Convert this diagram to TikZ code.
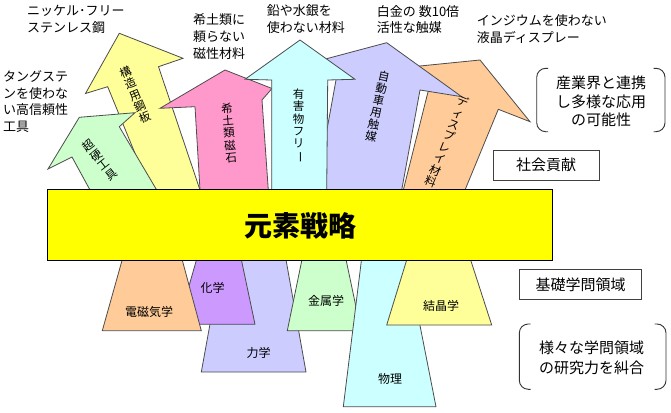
\documentclass[tikz,border=0pt]{standalone}
\usepackage{fontspec}
\setmainfont{Noto Sans CJK JP}
\definecolor{cgreen}{HTML}{CCFFCC}
\definecolor{cyellow}{HTML}{FFFF99}
\definecolor{cpink}{HTML}{FF99CC}
\definecolor{ccyan}{HTML}{CCFFFF}
\definecolor{clav}{HTML}{CCCCFF}
\definecolor{corange}{HTML}{FFCC99}
\definecolor{cpurple}{HTML}{CC99FF}
\definecolor{cmain}{HTML}{FFFF00}
\begin{document}
\begin{tikzpicture}[x=1pt,y=-1pt,
  shp/.style={draw=black!70, line width=0.8pt, line join=miter},
  toplbl/.style={font=\fontsize{13}{16.8}\selectfont, align=left, anchor=north west, inner sep=0pt},
  sidelbl/.style={font=\fontsize{15}{19}\selectfont, align=center, inner sep=0pt},
  boxlbl/.style={font=\fontsize{15}{19}\selectfont, draw=black!75, line width=0.9pt, inner sep=0pt},
  vlbl/.style={font=\fontsize{11.5}{12.3}\selectfont, align=center, inner sep=0pt},
  blbl/.style={font=\fontsize{12}{14}\selectfont, inner sep=0pt},
  brk/.style={draw=black!80, line width=0.9pt, rounded corners=9pt}]
\useasboundingbox (0,0) rectangle (671,412);

% bottom trapezoids
\filldraw[shp, fill=clav] (222,258) -- (285.7,258) -- (306,372) -- (201.3,372) -- cycle;
\filldraw[shp, fill=cpurple] (197,258) -- (241,258) -- (255,324.3) -- (178,324.3) -- cycle;
\filldraw[shp, fill=corange] (122.7,258) -- (181.7,258) -- (201.3,330.7) -- (102.3,330.7) -- cycle;
\filldraw[shp, fill=cgreen] (302.3,258) -- (345.7,258) -- (361,330.7) -- (287.3,330.7) -- cycle;
\filldraw[shp, fill=ccyan] (361.7,258) -- (406.7,258) -- (436,406.7) -- (343.3,406.7) -- cycle;
\filldraw[shp, fill=cyellow] (407.3,258) -- (470,258) -- (491.7,325) -- (386.7,325) -- cycle;

\node[blbl] (denji) at (149,311.7) {電磁気学};
\node[blbl] (kagaku) at (212.7,288.3) {化学};
\node[blbl] (rikigaku) at (258.7,353.3) {力学};
\node[blbl] (kinzoku) at (326,300.7) {金属学};
\node[blbl] (butsuri) at (390,379) {物理};
\node[blbl] (kessho) at (441.2,305.7) {結晶学};

% top arrows
\filldraw[shp, fill=cyellow] (150,190) -- (107.7,86.7) -- (85.5,93.5) -- (119.3,33.3) -- (183,58.3) -- (158.5,66.7) -- (200,190) -- cycle;
\filldraw[shp, fill=cgreen] (90,190) -- (72,157) -- (48,169) -- (79.3,117.3) -- (135,112.7) -- (119.3,126.7) -- (156.7,190) -- cycle;
\filldraw[shp, fill=cpink] (200,190) -- (195,106.7) -- (160,108.3) -- (225,70) -- (272,88.5) -- (262,100) -- (268.3,190) -- cycle;
\filldraw[shp, fill=corange] (403.3,190) -- (428.3,90.7) -- (400,68) -- (480,60) -- (530,121.7) -- (498.3,109.3) -- (465,190) -- cycle;
\filldraw[shp, fill=clav] (316,190) -- (336,80) -- (318,61) -- (386.7,42.7) -- (461.7,96.7) -- (420,90) -- (401.7,190) -- cycle;
\filldraw[shp, fill=ccyan] (271.7,190) -- (271.7,80) -- (245,79.3) -- (300,40) -- (355,79.3) -- (327.7,80) -- (326.7,190) -- cycle;

\node[vlbl, rotate=23] (kozo) at (135,95) {構\\造\\用\\鋼\\板};
\node[vlbl, rotate=38] (chokou) at (100,160) {超\\硬\\工\\具};
\node[vlbl, rotate=5] (kidorui) at (229,133) {希\\土\\類\\磁\\石};
\node[vlbl, rotate=-22] (disp) at (446.7,141.7) {デ\\ィ\\ス\\プ\\レ\\イ\\材\\料};
\node[vlbl, rotate=-12] (jidosha) at (377.5,106) {自\\動\\車\\用\\触\\媒};
\node[vlbl] (yugai) at (298.5,126) {有\\害\\物\\フ\\リ\\\rotatebox[origin=c]{-90}{ー}};

% main bar
\filldraw[draw=black, line width=1pt, fill=cmain] (47,189.3) rectangle (552.7,260.3);
\node[font=\fontsize{28}{30}\selectfont\bfseries, inner sep=0pt] (title) at (300.5,225.5) {元素戦略};

% top labels
\node[toplbl] (l1) at (27,5) {ニッケル･フリー\\ステンレス鋼};
\node[toplbl] (l2) at (3,70.2) {タングステ\\ンを使わな\\い高信頼性\\工具};
\node[toplbl] (l3) at (193,13.5) {希土類に\\頼らない\\磁性材料};
\node[toplbl] (l4) at (266.7,4.5) {鉛や水銀を\\使わない材料};
\node[toplbl] (l5) at (376.7,5) {白金の 数10倍\\活性な触媒};
\node[toplbl] (l6) at (476.7,14.5) {インジウムを使わない\\液晶ディスプレー};

% right side
\draw[brk] (548,68.3) -- (536.7,68.3) -- (536.7,131.7) -- (548,131.7);
\draw[brk] (653.7,68.3) -- (665,68.3) -- (665,131.7) -- (653.7,131.7);
\node[sidelbl, font=\fontsize{15}{18.3}\selectfont] (sangyo) at (601,101.5) {産業界と連携\\し多様な応用\\の可能性};
\node[boxlbl, minimum width=106pt, minimum height=30pt] (shakai) at (546,165) {社会貢献};
\node[boxlbl, minimum width=122.4pt, minimum height=30pt] (kiso) at (580.5,284.3) {基礎学問領域};
\draw[brk] (530.6,324) -- (519.3,324) -- (519.3,389.3) -- (530.6,389.3);
\draw[brk] (654.7,324) -- (666,324) -- (666,389.3) -- (654.7,389.3);
\node[sidelbl, font=\fontsize{15}{20}\selectfont] (samazama) at (591.7,357.5) {様々な学問領域\\の研究力を糾合};
\end{tikzpicture}
\end{document}
